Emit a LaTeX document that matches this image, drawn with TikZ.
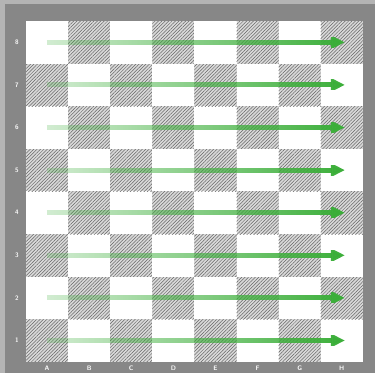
\documentclass[tikz,border=0pt]{standalone}
\usetikzlibrary{patterns.meta,fadings,arrows.meta}
\definecolor{framedark}{HTML}{878787}
\definecolor{framelight}{HTML}{B4B4B4}
\definecolor{arrowgreen}{HTML}{3AAE38}
\tikzfading[name=arrowfade, left color=transparent!78, right color=transparent!0]
\tikzset{
  darksq/.style={pattern={Lines[angle=45,distance=2.4pt,line width=0.5pt]}, pattern color=black!60},
  lightsq/.style={fill=white},
  movearrow/.style={draw=arrowgreen, line width=5pt, path fading=arrowfade, -{Triangle[length=14pt,width=13pt]}},
  coordlabel/.style={text=white!95!gray, font=\sffamily\bfseries\fontsize{6.5}{6.5}\selectfont, inner sep=0pt}
}
\begin{document}
\begin{tikzpicture}[x=1pt,y=-1pt]
\useasboundingbox (0,0) rectangle (375,373);
\fill[framelight] (0,0) rectangle (375,373);
\fill[framedark] (5,4) rectangle (375,373);
\def\sx{42.1}
\def\sy{42.6}
\foreach \f in {1,...,8}{
  \foreach \r in {1,...,8}{
    \pgfmathtruncatemacro{\sqpar}{mod(\f+\r,2)}
    \pgfmathsetmacro{\xa}{26+(\f-1)*\sx}
    \pgfmathsetmacro{\ya}{21+(8-\r)*\sy}
    \ifnum\sqpar=0
      \fill[gray!30] (\xa,\ya) rectangle ++(\sx,\sy);
      \path[darksq] (\xa,\ya) rectangle ++(\sx,\sy);
    \else
      \fill[lightsq] (\xa,\ya) rectangle ++(\sx,\sy);
    \fi
  }
}
\foreach \r in {1,...,8}{
  \pgfmathsetmacro{\yc}{21+(8-\r)*\sy+0.5*\sy}
  \coordinate (s\r) at (47,\yc);
  \coordinate (e\r) at (345,\yc);
  \draw[movearrow] (s\r) -- (e\r);
  \node[coordlabel] (rank\r) at (17,\yc) {\r};
}
\foreach \l [count=\f] in {A,B,C,D,E,F,G,H}{
  \pgfmathsetmacro{\xc}{26+(\f-0.5)*\sx}
  \node[coordlabel] (file\l) at (\xc,368.5) {\l};
}
\end{tikzpicture}
\end{document}
